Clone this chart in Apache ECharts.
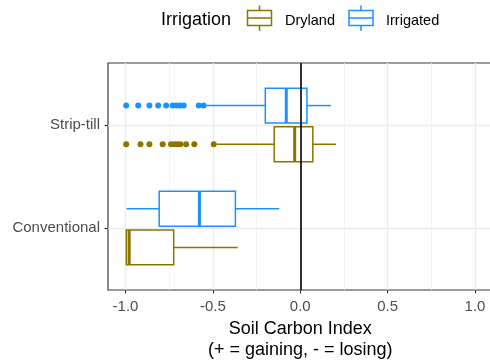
<!DOCTYPE html>
<html><head><meta charset="utf-8">
<script src="https://cdn.jsdelivr.net/npm/echarts@6/dist/echarts.min.js"></script>
<style>html,body{margin:0;padding:0;background:#fff}#c{width:490px;height:360px}</style>
</head><body><div id="c"></div>
<script>
const categories = ['Conventional', 'Strip-till'];
// [min, q1, median, q3, max] per category
const drylandStats = [
  [-0.995, -0.995, -0.979, -0.724, -0.358],
  [-0.48, -0.149, -0.032, 0.072, 0.204]
];
const irrigatedStats = [
  [-0.994, -0.807, -0.577, -0.371, -0.12],
  [-0.537, -0.2, -0.08, 0.038, 0.175]
];
const drylandOutliers = [[], [-0.996, -0.914, -0.863, -0.787, -0.739, -0.72, -0.703, -0.686, -0.653, -0.606, -0.495]];
const irrigatedOutliers = [[], [-0.996, -0.927, -0.863, -0.813, -0.767, -0.73, -0.71, -0.69, -0.667, -0.581, -0.553]];
const xTicks = [-1, -0.5, 0, 0.5, 1];
const xMinorTicks = [-0.75, -0.25, 0.25, 0.75];
const refLine = 0;

const OLIVE = '#8B7500', BLUE = '#1E90FF';
const FONT = '"Liberation Sans", Arial, sans-serif';
const DODGE = 0.1875, HALF = 0.16875;

function boxRenderer(offset, color) {
  return function (params, api) {
    const yc = api.value(0) + offset;
    const vals = [1, 2, 3, 4, 5].map(i => api.value(i));
    const x = vals.map(v => api.coord([v, yc])[0]);
    const mid = api.coord([0, yc])[1];
    const top = api.coord([0, yc + HALF])[1];
    const bot = api.coord([0, yc - HALF])[1];
    const ls = { stroke: color, lineWidth: 1.5, fill: null };
    return { type: 'group', children: [
      { type: 'line', shape: { x1: x[0], y1: mid, x2: x[1], y2: mid }, style: ls },
      { type: 'line', shape: { x1: x[3], y1: mid, x2: x[4], y2: mid }, style: ls },
      { type: 'rect', shape: { x: x[1], y: top, width: x[3] - x[1], height: bot - top }, style: { stroke: color, lineWidth: 1.5, fill: '#fff' } },
      { type: 'line', shape: { x1: x[2], y1: top, x2: x[2], y2: bot }, style: { stroke: color, lineWidth: 3 } }
    ] };
  };
}
function boxData(stats) { return stats.map((s, i) => [i + 1].concat(s)); }
function outlierData(outs, offset) {
  const d = [];
  outs.forEach((arr, i) => arr.forEach(v => d.push([v, i + 1 + offset])));
  return d;
}
function legendKey(x, color) {
  const cx = x + 12;
  return { type: 'group', children: [
    { type: 'line', shape: { x1: cx, y1: 5.5, x2: cx, y2: 10.5 }, style: { stroke: color, lineWidth: 1.5 } },
    { type: 'line', shape: { x1: cx, y1: 25.5, x2: cx, y2: 31 }, style: { stroke: color, lineWidth: 1.5 } },
    { type: 'rect', shape: { x: x, y: 10.5, width: 24, height: 15 }, style: { stroke: color, lineWidth: 1.5, fill: '#fff' } },
    { type: 'line', shape: { x1: x, y1: 18, x2: x + 24, y2: 18 }, style: { stroke: color, lineWidth: 1.5 } }
  ] };
}

const chart = echarts.init(document.getElementById('c'), null, { renderer: 'canvas' });
chart.setOption({
  animation: false,
  backgroundColor: '#fff',
  textStyle: { fontFamily: FONT },
  grid: { left: 108, top: 63, width: 384.5, height: 227, show: true, borderColor: '#3a3a3a', borderWidth: 1.2, backgroundColor: 'transparent', outerBoundsMode: 'none', containLabel: false },
  xAxis: [{
    type: 'value', min: -1.1, max: 1.1, position: 'bottom',
    name: 'Soil Carbon Index\n(+ = gaining, - = losing)', nameLocation: 'middle', nameGap: 27,
    nameTextStyle: { fontSize: 18, color: '#000', lineHeight: 21, fontFamily: FONT },
    axisLine: { show: false, onZero: false },
    axisTick: { show: true, customValues: xTicks, length: 3.5, lineStyle: { color: '#333', width: 1.1 } },
    axisLabel: { customValues: xTicks, formatter: v => v.toFixed(1), fontSize: 15, color: '#4D4D4D', margin: 9, fontFamily: FONT },
    splitLine: { show: true, lineStyle: { color: '#EBEBEB', width: 1.4 } }
  }, {
    type: 'value', min: -1.1, max: 1.1, position: 'top',
    axisLine: { show: false, onZero: false }, axisLabel: { show: false },
    axisTick: { show: false, customValues: xMinorTicks },
    splitLine: { show: true, lineStyle: { color: '#F3F3F3', width: 0.8 } }
  }],
  yAxis: {
    type: 'value', min: 0.4, max: 2.6, position: 'left',
    axisLine: { show: false, onZero: false },
    axisTick: { show: true, customValues: [1, 2], length: 3.5, lineStyle: { color: '#333', width: 1.1 } },
    axisLabel: { customValues: [1, 2], formatter: v => categories[Math.round(v) - 1], fontSize: 15, color: '#4D4D4D', margin: 8, fontFamily: FONT },
    splitLine: { show: true, lineStyle: { color: '#EBEBEB', width: 1.4 } }
  },
  series: [
    { type: 'custom', name: 'Dryland', z: 2, renderItem: boxRenderer(-DODGE, OLIVE), encode: { x: [1, 2, 3, 4, 5], y: 0 }, data: boxData(drylandStats) },
    { type: 'custom', name: 'Irrigated', z: 2, renderItem: boxRenderer(DODGE, BLUE), encode: { x: [1, 2, 3, 4, 5], y: 0 }, data: boxData(irrigatedStats) },
    { type: 'scatter', z: 3, symbol: 'circle', symbolSize: 6, itemStyle: { color: OLIVE, opacity: 1 }, data: outlierData(drylandOutliers, -DODGE) },
    { type: 'scatter', z: 3, symbol: 'circle', symbolSize: 6, itemStyle: { color: BLUE, opacity: 1 }, data: outlierData(irrigatedOutliers, DODGE) },
    { type: 'scatter', z: 5, data: [], markLine: { silent: true, symbol: 'none', label: { show: false }, lineStyle: { color: '#000', width: 1.6, type: 'solid' }, data: [{ xAxis: refLine }] } }
  ],
  graphic: [
    { type: 'text', left: 161, top: 11, style: { text: 'Irrigation', fontSize: 18, fill: '#000', fontFamily: FONT } },
    legendKey(247.5, OLIVE),
    { type: 'text', left: 285, top: 13, style: { text: 'Dryland', fontSize: 14.5, fill: '#000', fontFamily: FONT } },
    legendKey(349, BLUE),
    { type: 'text', left: 386, top: 13, style: { text: 'Irrigated', fontSize: 14.5, fill: '#000', fontFamily: FONT } }
  ]
});
</script></body></html>
